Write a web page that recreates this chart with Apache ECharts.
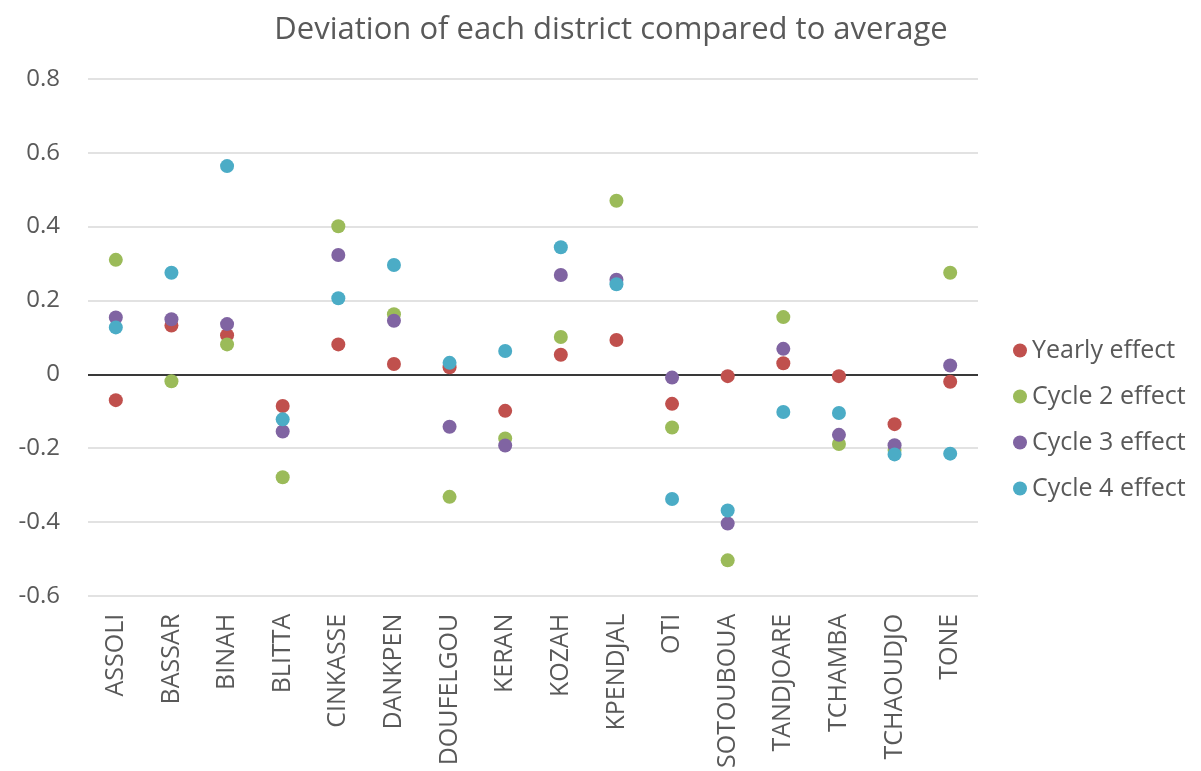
<!DOCTYPE html>
<html><head><meta charset="utf-8">
<script src="https://cdn.jsdelivr.net/npm/echarts@6/dist/echarts.min.js"></script>
<style>html,body{margin:0;padding:0;background:#fff}#c{width:1201px;height:771px}</style>
</head><body><div id="c"></div>
<script>
const districts = ["ASSOLI","BASSAR","BINAH","BLITTA","CINKASSE","DANKPEN","DOUFELGOU","KERAN","KOZAH","KPENDJAL","OTI","SOTOUBOUA","TANDJOARE","TCHAMBA","TCHAOUDJO","TONE"];
const yearly = [-0.07,0.132,0.106,-0.086,0.081,0.028,0.019,-0.099,0.053,0.093,-0.080,-0.005,0.030,-0.005,-0.135,-0.020];
const cycle2 = [0.31,-0.019,0.081,-0.279,0.401,0.163,-0.332,-0.174,0.101,0.470,-0.144,-0.504,0.155,-0.189,-0.205,0.275];
const cycle3 = [0.154,0.149,0.136,-0.155,0.323,0.145,-0.142,-0.193,0.269,0.256,-0.009,-0.404,0.069,-0.164,-0.192,0.024];
const cycle4 = [0.127,0.275,0.564,-0.122,0.206,0.296,0.031,0.063,0.344,0.244,-0.338,-0.369,-0.102,-0.105,-0.217,-0.215];
const yTicks = {min:-0.6, max:0.8, interval:0.2};
const seriesNames = ["Yearly effect","Cycle 2 effect","Cycle 3 effect","Cycle 4 effect"];
const colors = ["#C0504D","#9BBB59","#8064A2","#4BACC6"];
const font = "'Open Sans', sans-serif";
const chart = echarts.init(document.getElementById('c'));
const mk = (name, data, color, i) => ({
  name, type:'scatter', data, symbol:'circle', symbolSize:14,
  itemStyle:{color, opacity:1},
  z: 2,
  markLine: i===0 ? {silent:true, symbol:'none', label:{show:false},
    lineStyle:{color:'#000', width:1.5, type:'solid'}, data:[{yAxis:0}], z:1} : undefined
});
chart.setOption({
  animation:false,
  color: colors,
  title:{text:'Deviation of each district compared to average', left:606, top:10, textAlign:'center',
    textStyle:{fontFamily:font, fontWeight:'normal', fontSize:31, color:'#595959'}},
  legend:{orient:'vertical', left:1008, top:333, itemGap:21, itemWidth:14, itemHeight:14, icon:'circle',
    textStyle:{fontFamily:font, fontSize:25, color:'#595959'}, data:seriesNames},
  grid:{left:88, right:223, top:79, bottom:175},
  xAxis:{type:'category', data:districts, boundaryGap:true,
    axisLine:{show:false}, axisTick:{show:false}, splitLine:{show:false},
    axisLabel:{rotate:90, interval:0, margin:18, fontFamily:font, fontSize:25, color:'#595959'}},
  yAxis:{type:'value', min:yTicks.min, max:yTicks.max, interval:yTicks.interval,
    axisLine:{show:false}, axisTick:{show:false},
    splitLine:{lineStyle:{color:'#D9D9D9', width:1.5}},
    axisLabel:{fontFamily:font, fontSize:24, color:'#595959', margin:28,
      formatter:v=>{const r=Math.round(v*10)/10; return r===0?'0':String(r);}}},
  series:[mk(seriesNames[0],yearly,colors[0],0),mk(seriesNames[1],cycle2,colors[1],1),mk(seriesNames[2],cycle3,colors[2],2),mk(seriesNames[3],cycle4,colors[3],3)]
});
</script></body></html>
